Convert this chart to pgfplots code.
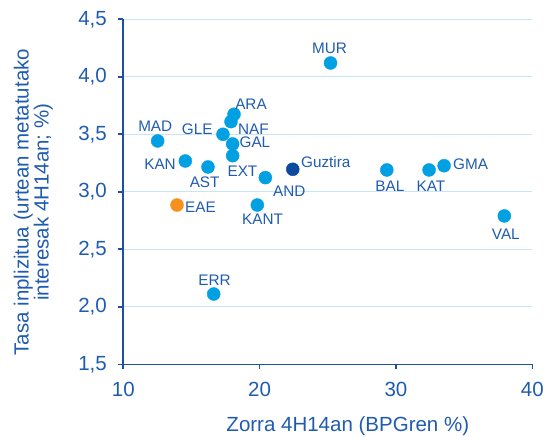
\documentclass[border=0pt]{standalone}
\usepackage{pgfplots}
\pgfplotsset{compat=1.18}
\usepackage{fontspec}
\setmainfont{Liberation Sans}
\definecolor{ptblue}{HTML}{00A0E3}
\definecolor{ptdark}{HTML}{0B4A9E}
\definecolor{ptorange}{HTML}{F6901E}
\definecolor{txtblue}{HTML}{1F5BB0}
\definecolor{axblue}{HTML}{1E50A2}
\definecolor{gridblue}{HTML}{C6E6F6}
\newcommand\chartfont{\fontsize{15.3bp}{18bp}\selectfont}
\newcommand\axisfont{\fontsize{20.5bp}{25bp}\selectfont}

\pgfplotstableread{
x      y      dx     dy     label
25.20  4.120  -1     15     MUR
18.12  3.674  17     10     ARA
17.90  3.610  22.3   -7.1   NAF
17.31  3.500  -25.8  4.8    GLE
18.02  3.416  22.3   1.5    GAL
18.02  3.314  9.8    -16    EXT
12.52  3.442  -2.4   15.2   MAD
14.55  3.268  -25.3  -3.2   KAN
16.21  3.216  -3.3   -15.5  AST
20.42  3.123  24     -13.5  AND
29.33  3.190  3      -15.8  BAL
32.43  3.190  1.8    -15.8  KAT
33.53  3.227  26.5   1.5    GMA
37.95  2.790  1.5    -18.2  VAL
19.83  2.885  5.2    -14.5  KANT
16.63  2.111  0.8    14.2   ERR
}\regions
\pgfplotstableread{
x      y      dx     dy     label
13.94  2.885  23.5   -2.5   EAE
}\eae
\pgfplotstableread{
x      y      dx     dy     label
22.43  3.196  33     7.5    Guztira
}\guztira

\begin{document}
\begin{tikzpicture}
\useasboundingbox (-123.3bp,-72.7bp) rectangle (422.7bp,364.3bp);
\begin{axis}[
    at={(0,0)}, anchor=south west,
    scale only axis, width=409bp, height=345bp,
    xmin=10, xmax=40, ymin=1.5, ymax=4.5,
    xtick={10,20,30,40}, ytick={1.5,2,...,4.5},
    axis x line*=bottom, axis y line*=left,
    axis line style={axblue, line width=1.6bp, -},
    tick style={axblue, line width=1.6bp},
    tick align=outside, major tick length=5bp,
    ymajorgrids, major grid style={gridblue, line width=0.8bp},
    xticklabel={\axisfont\pgfmathprintnumber[fixed, precision=0, assume math mode=true]{\tick}},
    yticklabel={\axisfont\pgfmathprintnumber[fixed, fixed zerofill, precision=1, use comma, assume math mode=true]{\tick}},
    every tick label/.append style={text=txtblue},
    xticklabel style={yshift=-9bp},
    yticklabel style={xshift=-8bp},
    xlabel={\axisfont Zorra 4H14an (BPGren \%)},
    ylabel={\axisfont Tasa inplizitua (urtean metatutako\\\axisfont interesak 4H14an; \%)},
    xlabel style={at={(axis description cs:0.549,-0.179)}, anchor=center, text=txtblue},
    ylabel style={at={(axis description cs:-0.22,0.47)}, anchor=center, align=center, text=txtblue},
    nodes near coords, point meta=explicit symbolic,
    visualization depends on={\thisrow{dx}\as\dx},
    visualization depends on={\thisrow{dy}\as\dy},
    every node near coord/.append style={anchor=center, inner sep=0pt,
        xshift=\dx bp, yshift=\dy bp, text=txtblue, font=\chartfont},
]
\addplot[only marks, mark=*, mark size=6.5bp, color=ptblue]
    table[x=x, y=y, meta=label] {\regions};
\addplot[only marks, mark=*, mark size=6.5bp, color=ptorange]
    table[x=x, y=y, meta=label] {\eae};
\addplot[only marks, mark=*, mark size=6.5bp, color=ptdark]
    table[x=x, y=y, meta=label] {\guztira};
\end{axis}
\end{tikzpicture}
\end{document}
